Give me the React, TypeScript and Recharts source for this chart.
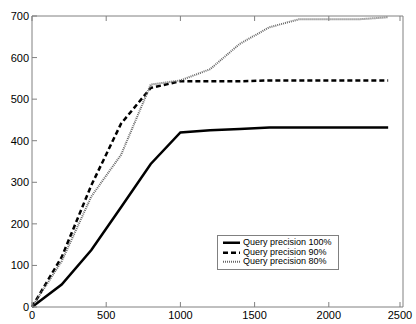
import { Line, LineChart, XAxis, YAxis } from "recharts";

const xs = [0, 200, 400, 600, 800, 1000, 1200, 1400, 1600, 1800, 2000, 2200, 2400];
const p100 = [0, 54, 137, 240, 344, 420, 425, 428, 432, 432, 432, 432, 432];
const p90 = [0, 120, 293, 441, 527, 543, 543, 543, 545, 545, 545, 545, 545];
const p80 = [0, 110, 266, 366, 535, 545, 572, 633, 673, 692, 692, 692, 697];
const xTicks = [0, 500, 1000, 1500, 2000, 2500];
const yTicks = [0, 100, 200, 300, 400, 500, 600, 700];

const data = xs.map((x, i) => ({ x, p100: p100[i], p90: p90[i], p80: p80[i] }));

const FRAME = "#808080";
const FONT = "Arial, 'Liberation Sans', sans-serif";
const TICK = 5;

// inward tick marks, labels outside (matlab box style)
function BottomTick({ x, y, payload }: any) {
  return (
    <g>
      <line x1={x} x2={x} y1={y} y2={y - TICK} stroke={FRAME} />
      <text x={x} y={y + 12} textAnchor="middle" fontSize={11} fontFamily={FONT} fill="#000">
        {payload.value}
      </text>
    </g>
  );
}
function TopTick({ x, y }: any) {
  return <line x1={x} x2={x} y1={y} y2={y + TICK} stroke={FRAME} />;
}
function LeftTick({ x, y, payload }: any) {
  return (
    <g>
      <line x1={x} x2={x + TICK} y1={y} y2={y} stroke={FRAME} />
      <text x={x - 3} y={y + 4} textAnchor="end" fontSize={11} fontFamily={FONT} fill="#000">
        {payload.value}
      </text>
    </g>
  );
}
function RightTick({ x, y }: any) {
  return <line x1={x} x2={x - TICK} y1={y} y2={y} stroke={FRAME} />;
}

const series = [
  { key: "p100", name: "Query precision 100%", stroke: "#000", width: 2.5, dash: undefined },
  { key: "p90", name: "Query precision 90%", stroke: "#000", width: 2.5, dash: "5 3" },
  { key: "p80", name: "Query precision 80%", stroke: "#666", width: 2, dash: "1 1" },
];

function LegendBox() {
  return (
    <div
      style={{
        position: "absolute",
        left: 217,
        top: 235,
        border: `1px solid ${FRAME}`,
        background: "#fff",
        padding: "2px 6px 2px 4px",
        fontFamily: FONT,
        fontSize: 9,
        lineHeight: "9.5px",
        whiteSpace: "nowrap",
      }}
    >
      {series.map((s) => (
        <div key={s.key} style={{ display: "flex", alignItems: "center" }}>
          <svg width={20} height={9.5}>
            <line x1={1} x2={18} y1={4.75} y2={4.75} stroke={s.stroke} strokeWidth={s.width} strokeDasharray={s.dash} />
          </svg>
          <span style={{ marginLeft: 1 }}>{s.name}</span>
        </div>
      ))}
    </div>
  );
}

export default function App() {
  return (
    <div style={{ position: "fixed", left: 0, top: 0, width: 416, height: 324, background: "#fff" }}>
      <LineChart width={416} height={324} data={data} margin={{ top: 15, right: 12, bottom: 16, left: 0 }}>
        <XAxis
          dataKey="x"
          type="number"
          domain={[0, 2500]}
          ticks={xTicks}
          height={1}
          tickSize={0}
          tickMargin={0}
          tickLine={false}
          axisLine={{ stroke: FRAME }}
          tick={<BottomTick />}
        />
        <XAxis
          xAxisId="top"
          orientation="top"
          dataKey="x"
          type="number"
          domain={[0, 2500]}
          ticks={xTicks}
          height={1}
          tickSize={0}
          tickMargin={0}
          tickLine={false}
          axisLine={{ stroke: FRAME }}
          tick={<TopTick />}
        />
        <YAxis
          type="number"
          domain={[0, 700]}
          ticks={yTicks}
          width={32}
          tickSize={0}
          tickMargin={0}
          tickLine={false}
          axisLine={{ stroke: FRAME }}
          tick={<LeftTick />}
        />
        <YAxis
          yAxisId="right"
          orientation="right"
          type="number"
          domain={[0, 700]}
          ticks={yTicks}
          width={1}
          tickSize={0}
          tickMargin={0}
          tickLine={false}
          axisLine={{ stroke: FRAME }}
          tick={<RightTick />}
        />
        {series.map((s) => (
          <Line
            key={s.key}
            dataKey={s.key}
            name={s.name}
            type="linear"
            stroke={s.stroke}
            strokeWidth={s.width}
            strokeDasharray={s.dash}
            dot={false}
            isAnimationActive={false}
          />
        ))}
      </LineChart>
      <LegendBox />
    </div>
  );
}
